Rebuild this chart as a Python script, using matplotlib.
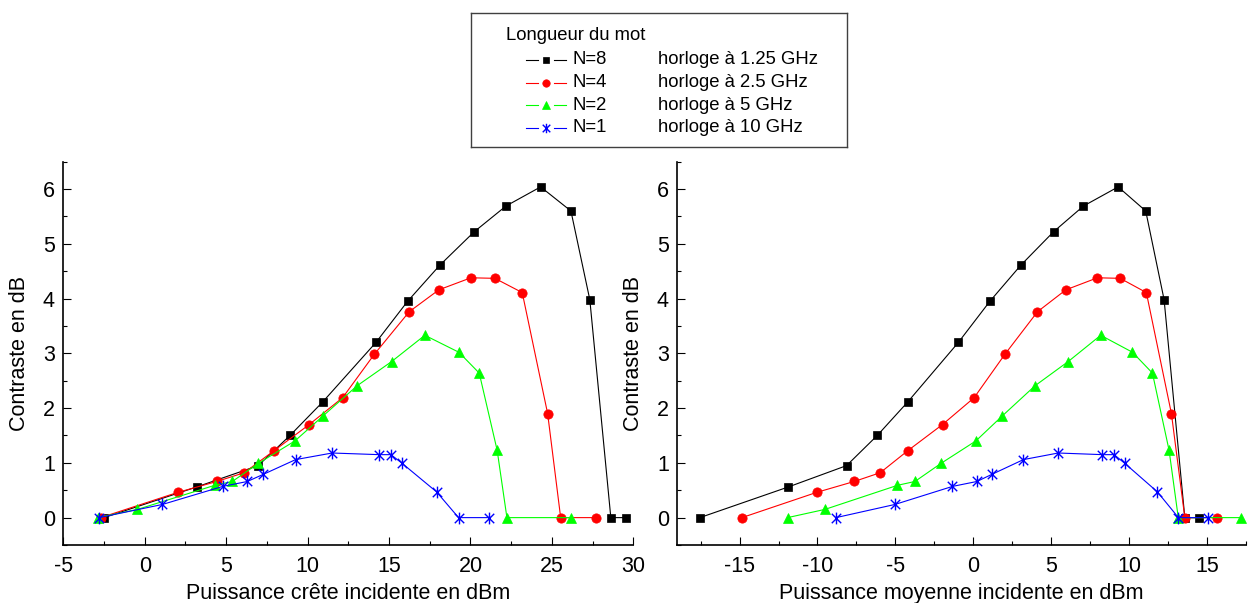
import numpy as np
import matplotlib.pyplot as plt
from matplotlib.path import Path
from matplotlib.ticker import MultipleLocator

plt.rcParams['font.family'] = ['Liberation Sans', 'DejaVu Sans']
plt.rcParams['axes.unicode_minus'] = False

# Contraste mesuré (dB) pour chaque longueur de mot
contraste_n8 = [0, 0.56, 0.95, 1.50, 2.11, 3.20, 3.95, 4.61, 5.22, 5.69, 6.04, 5.60, 3.98, 0, 0]
contraste_n4 = [0, 0.46, 0.66, 0.82, 1.22, 1.70, 2.19, 2.98, 3.76, 4.16, 4.38, 4.37, 4.11, 1.90, 0, 0]
contraste_n2 = [0, 0.15, 0.59, 0.66, 0.99, 1.40, 1.86, 2.41, 2.85, 3.33, 3.02, 2.64, 1.23, 0, 0]
contraste_n1 = [0, 0.24, 0.57, 0.66, 0.79, 1.06, 1.18, 1.15, 1.15, 0.99, 0.47, 0, 0]

# Puissance crête incidente (dBm)
crete_n8 = [-2.5, 3.19, 6.97, 8.92, 10.92, 14.2, 16.14, 18.12, 20.23, 22.18, 24.31, 26.17, 27.33, 28.62, 29.54]
crete_n4 = [-2.7, 2.02, 4.42, 6.11, 7.93, 10.1, 12.15, 14.09, 16.24, 18.06, 20.03, 21.5, 23.18, 24.74, 25.54, 27.7]
crete_n2 = [-2.9, -0.45, 4.3, 5.38, 6.97, 9.22, 10.96, 13.05, 15.16, 17.2, 19.29, 20.54, 21.64, 22.24, 26.19]
crete_n1 = [-2.8, 1.08, 4.79, 6.3, 7.28, 9.27, 11.51, 14.38, 15.12, 15.81, 17.92, 19.27, 21.13]

# Puissance moyenne incidente (dBm)
moyenne_n8 = [-17.55, -11.87, -8.13, -6.16, -4.21, -0.95, 1.07, 3.06, 5.16, 7.08, 9.31, 11.08, 12.26, 13.59, 14.48]
moyenne_n4 = [-14.85, -10.06, -7.64, -5.97, -4.21, -1.97, 0.06, 2.03, 4.13, 5.95, 7.98, 9.44, 11.12, 12.73, 13.59, 15.68]
moyenne_n2 = [-11.92, -9.52, -4.86, -3.74, -2.07, 0.17, 1.88, 3.98, 6.10, 8.19, 10.23, 11.51, 12.58, 13.17, 17.17]
moyenne_n1 = [-8.81, -5.03, -1.33, 0.24, 1.2, 3.23, 5.46, 8.30, 9.05, 9.74, 11.83, 13.18, 15.09]

noms = ["N=8", "N=4", "N=2", "N=1"]
horloges = ["horloge à 1.25 GHz", "horloge à 2.5 GHz", "horloge à 5 GHz", "horloge à 10 GHz"]
contrastes = [contraste_n8, contraste_n4, contraste_n2, contraste_n1]
cretes = [crete_n8, crete_n4, crete_n2, crete_n1]
moyennes = [moyenne_n8, moyenne_n4, moyenne_n2, moyenne_n1]

# Étoile façon Origin : trait vertical + croix
etoile = Path([(0, -1), (0, 1), (-0.8, -0.8), (0.8, 0.8), (-0.8, 0.8), (0.8, -0.8)],
              [Path.MOVETO, Path.LINETO, Path.MOVETO, Path.LINETO, Path.MOVETO, Path.LINETO])

couleurs = ["black", "#ff0000", "#00ff00", "#0000ff"]
marqueurs = ["s", "o", "^", etoile]
tailles = [5.8, 6.7, 7.5, 8.5]
bords = [0.5, 0.5, 0.5, 1.0]

fig = plt.figure(figsize=(12.49, 6.03), dpi=100)
ax1 = fig.add_axes([63.3 / 1249, 58 / 603, 570 / 1249, 383.3 / 603])
ax2 = fig.add_axes([677.3 / 1249, 58 / 603, 568.4 / 1249, 383.3 / 603])


def trace(ax, abscisses):
    for x, y, c, m, t, b in zip(abscisses, contrastes, couleurs, marqueurs, tailles, bords):
        ax.plot(x, y, color=c, linewidth=0.8, marker=m, markersize=t,
                markerfacecolor=c, markeredgecolor=c, markeredgewidth=b, clip_on=False)


def regle_axe(ax, xmin, xmax, etiquette):
    ax.set_xlim(xmin, xmax)
    ax.set_ylim(-0.5, 6.5)
    ax.xaxis.set_major_locator(MultipleLocator(5))
    ax.xaxis.set_minor_locator(MultipleLocator(2.5))
    ax.yaxis.set_major_locator(MultipleLocator(1))
    ax.yaxis.set_minor_locator(MultipleLocator(0.5))
    ax.tick_params(which='both', direction='in', width=0.8, labelsize=15.5)
    ax.tick_params(which='major', length=5.5)
    ax.tick_params(which='minor', length=3)
    ax.tick_params(axis='x', pad=8)
    ax.tick_params(axis='y', pad=6)
    ax.spines['top'].set_visible(False)
    ax.spines['right'].set_visible(False)
    ax.spines['left'].set_linewidth(1.2)
    ax.spines['bottom'].set_linewidth(1.2)
    ax.set_xlabel(etiquette, fontsize=15.5, labelpad=4)
    ax.set_ylabel("Contraste en dB", fontsize=15.5, labelpad=9)


trace(ax1, cretes)
trace(ax2, moyennes)
regle_axe(ax1, -5, 30, "Puissance crête incidente en dBm")
regle_axe(ax2, -19, 17.5, "Puissance moyenne incidente en dBm")

# Légende dessinée à la main, en pixels dans son cadre
leg = fig.add_axes([471 / 1249, 1 - 147 / 603, 376 / 1249, 134 / 603])
leg.set_xlim(0, 376)
leg.set_ylim(134, 0)
leg.set_xticks([])
leg.set_yticks([])
for s in leg.spines.values():
    s.set_color('#404040')
    s.set_linewidth(1)
leg.text(35, 22, "Longueur du mot", va='center', fontsize=13.3)
rangs = [47, 69.7, 92.3, 115]
for y, nom, horloge, c, m, t, b in zip(rangs, noms, horloges, couleurs, marqueurs, tailles, bords):
    leg.plot([55, 67], [y, y], color=c, linewidth=0.8)
    leg.plot([83, 95], [y, y], color=c, linewidth=0.8)
    leg.plot([75], [y], linestyle='none', marker=m, markersize=t * 0.8,
             color=c, markeredgewidth=b)
    leg.text(101.7, y, nom, va='center', fontsize=13.3)
    leg.text(187.3, y, horloge, va='center', fontsize=13.3)

fig.savefig("out.png", dpi=100)
